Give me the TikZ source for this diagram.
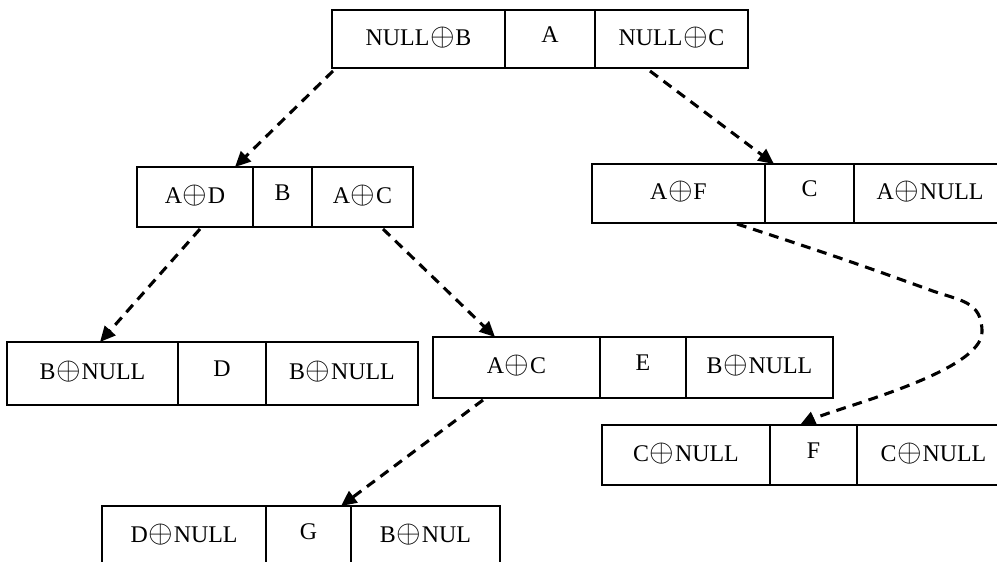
\documentclass[tikz,border=0pt]{standalone}
\usepackage{fontspec}
\setmainfont{Liberation Serif}
\usetikzlibrary{positioning, calc, arrows.meta}
\def\Px{0.025cm}
\def\Wbox{1.2pt}
\def\Wlink{2.2pt}
\tikzset{
    cell/.style={
        draw, line width=\Wbox, inner sep=0pt, outer sep=0pt,
        font=\fontsize{17}{20}\selectfont,
        text height=0.42cm, text depth=0.105cm
    },
    key cell/.style={cell, text depth=0.25cm},
    link/.style={
        line width=\Wlink, dash pattern=on 7pt off 5pt,
        -{Triangle[length=11pt, width=10pt]}
    }
}
\newcommand{\xor}{\kern0.5pt\scalebox{1.3}{$\oplus$}\kern0.5pt}
\newcommand{\Record}[9]{% #1:Name, #2:NW corner, #3:Height(px), #4-#6:Widths(px), #7-#9:Texts
    \node[cell, anchor=north west, minimum width=#4*\Px, minimum height=#3*\Px] (#1l) at #2 {#7};
    \node[key cell, minimum width=#5*\Px, minimum height=#3*\Px, right=0pt of #1l] (#1) {#8};
    \node[cell, minimum width=#6*\Px, minimum height=#3*\Px, right=0pt of #1] (#1r) {#9};
}

\begin{document}
\begin{tikzpicture}[x=\Px, y=-\Px]
    \useasboundingbox (0,0) rectangle (997,561);
    \clip (0,0) rectangle (997,561);

    \Record{A}{(332,10)}{58}{173}{90}{153}{NULL\xor B}{A}{NULL\xor C}
    \Record{B}{(137,167)}{60}{116}{59}{101}{A\xor D}{B}{A\xor C}
    \Record{C}{(592,164)}{59}{173}{89}{152}{A\xor F}{C}{A\xor NULL}
    \Record{D}{(7,342)}{63}{171}{88}{152}{B\xor NULL}{D}{B\xor NULL}
    \Record{E}{(433,337)}{61}{167}{86}{147}{A\xor C}{E}{B\xor NULL}
    \Record{F}{(602,425)}{60}{168}{87}{153}{C\xor NULL}{F}{C\xor NULL}
    \Record{G}{(102,506)}{60}{164}{85}{149}{D\xor NULL}{G}{B\xor NUL}

    % links
    \draw[link] ($(Al.south west)+(1,3)$) -- ($(Bl.north east)+(-18,0)$);
    \draw[link] ($(Ar.south west)+(55,3)$) -- ($(C.north west)+(9,0)$);
    \draw[link] ($(Bl.south west)+(63,2)$) -- ($(Dl.north west)+(93,0)$);
    \draw[link] ($(Br.south west)+(71,2)$) -- ($(El.north west)+(62,0)$);
    \draw[link] ($(El.south west)+(50,2)$) -- ($(G.north east)+(-10,0)$);
    \draw[link] ($(Cl.south east)+(-28,1)$) to[out=-18, in=160] (930,290)
        to[out=-20, in=90, looseness=1.2] (982,332)
        to[out=-90, in=25, looseness=0.5] ($(F.north west)+(30,0)$);
\end{tikzpicture}
\end{document}
